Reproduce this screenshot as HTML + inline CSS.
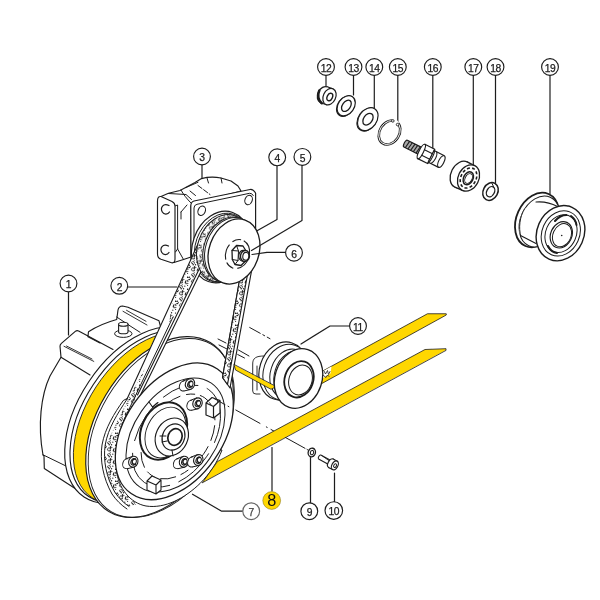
<!DOCTYPE html>
<html><head><meta charset="utf-8"><title>diagram</title>
<style>html,body{margin:0;padding:0;background:#fff;}svg{display:block;font-family:"Liberation Sans",sans-serif;}</style>
</head><body>
<svg width="600" height="600" viewBox="0 0 600 600">
<rect width="600" height="600" fill="#fff"/>
<g filter="url(#soft)">
<defs>
<filter id="soft" x="0" y="0" width="600" height="600" filterUnits="userSpaceOnUse"><feGaussianBlur stdDeviation="0.35"/></filter>
<pattern id="dots" width="12" height="12" patternUnits="userSpaceOnUse">
<rect width="12" height="12" fill="#fff"/><circle cx="5.4" cy="6.7" r="0.78" fill="#222"/><circle cx="5.6" cy="6.1" r="0.68" fill="#222"/><circle cx="2.2" cy="6.1" r="0.69" fill="#222"/><circle cx="9.5" cy="1.1" r="0.59" fill="#222"/><circle cx="1.1" cy="9.7" r="0.71" fill="#222"/><circle cx="0.5" cy="11.8" r="0.79" fill="#222"/><circle cx="7.8" cy="7.4" r="0.55" fill="#222"/><circle cx="0.2" cy="6.3" r="0.52" fill="#222"/><circle cx="2.3" cy="2.9" r="0.51" fill="#222"/><circle cx="5.6" cy="5.3" r="0.75" fill="#222"/><circle cx="6.2" cy="7.7" r="0.65" fill="#222"/><circle cx="7.9" cy="5.5" r="0.58" fill="#222"/><circle cx="12.0" cy="11.9" r="0.75" fill="#222"/><circle cx="8.5" cy="3.8" r="0.57" fill="#222"/><circle cx="3.5" cy="0.8" r="0.73" fill="#222"/><circle cx="4.8" cy="10.2" r="0.62" fill="#222"/><circle cx="11.5" cy="10.2" r="0.50" fill="#222"/><circle cx="2.5" cy="10.9" r="0.64" fill="#222"/><circle cx="11.8" cy="4.8" r="0.52" fill="#222"/><circle cx="7.6" cy="9.3" r="0.58" fill="#222"/><circle cx="1.0" cy="4.0" r="0.79" fill="#222"/><circle cx="9.1" cy="1.4" r="0.57" fill="#222"/><circle cx="1.2" cy="0.7" r="0.74" fill="#222"/><circle cx="2.1" cy="6.7" r="0.63" fill="#222"/><circle cx="2.3" cy="8.8" r="0.54" fill="#222"/><circle cx="7.7" cy="1.4" r="0.63" fill="#222"/><circle cx="2.6" cy="3.2" r="0.79" fill="#222"/><circle cx="9.6" cy="3.6" r="0.77" fill="#222"/><circle cx="2.5" cy="4.7" r="0.76" fill="#222"/><circle cx="7.7" cy="1.2" r="0.80" fill="#222"/><circle cx="2.6" cy="3.1" r="0.73" fill="#222"/><circle cx="3.9" cy="3.6" r="0.52" fill="#222"/><circle cx="1.1" cy="7.0" r="0.57" fill="#222"/><circle cx="7.2" cy="4.5" r="0.64" fill="#222"/><circle cx="11.5" cy="5.8" r="0.67" fill="#222"/><circle cx="10.4" cy="2.2" r="0.55" fill="#222"/>
</pattern>
<clipPath id="cy"><path d="M40 300 L172 300 L150 348 L112 420 L100 530 L40 530 Z"/></clipPath>
<clipPath id="ca"><path d="M0 0 L214 0 L214 240 L136 400 L136 600 L0 600 Z"/></clipPath>
<clipPath id="cd"><path d="M60 439 L150 439 L128 470 L140 530 L60 530 Z"/></clipPath>
</defs>
<path d="M44 456 L43 455 C37.5 425 41 395 50 376 L61 357.3 L60 346.3 Q60 344.6 61.4 343.4 L75.3 331.4 Q76.8 330.2 78.6 331 L88 336 L88.5 331.7 C95 327.5 104 323 116.7 319.5 L118 310 Q118.8 306.2 122.5 306 L128 307.2 L159 320.8 L162 332 C120 350 85 400 78 470 L82 493 L44.3 468.5 Z" fill="#fff" stroke="#1c1c1c" stroke-width="1.15" stroke-linejoin="round" stroke-linecap="round" />
<path d="M43 454.8 L68 467" fill="none" stroke="#1c1c1c" stroke-width="1" stroke-linejoin="round" stroke-linecap="round" />
<path d="M88 336 L113 349.5" fill="none" stroke="#1c1c1c" stroke-width="1.15" stroke-linejoin="round" stroke-linecap="round" />
<path d="M61 357.3 L90 375" fill="none" stroke="#1c1c1c" stroke-width="1.15" stroke-linejoin="round" stroke-linecap="round" />
<path d="M64 346.3 L93.8 361.4 M66.5 346 L92 359" fill="none" stroke="#1c1c1c" stroke-width="0.9" stroke-linejoin="round" stroke-linecap="round" />
<path d="M116.7 317 L128.7 325 L140 332.3" fill="none" stroke="#1c1c1c" stroke-width="1" stroke-linejoin="round" stroke-linecap="round" />
<path d="M123 311.3 L147 325 M126.5 310.3 L146 321.3" fill="none" stroke="#1c1c1c" stroke-width="0.9" stroke-linejoin="round" stroke-linecap="round" />
<path d="M88 336.7 L100 343" fill="none" stroke="#1c1c1c" stroke-width="1.15" stroke-linejoin="round" stroke-linecap="round" />
<ellipse cx="123.3" cy="333.7" rx="8.7" ry="3.7" transform="rotate(0 123.3 333.7)" fill="none" stroke="#1c1c1c" stroke-width="1" />
<path d="M118.6 324.3 L118.6 331.7 C118.6 334.5 128 334.5 128 331.7 L128 324.3 Z" fill="#fff" stroke="#1c1c1c" stroke-width="1.1" stroke-linejoin="round" stroke-linecap="round" />
<ellipse cx="123.3" cy="324.3" rx="4.7" ry="2" transform="rotate(0 123.3 324.3)" fill="#fff" stroke="#1c1c1c" stroke-width="1.1" />
<path d="M161 196.5 L168.5 193.3 L180 190.5 L195 182.5 L201.5 178.6 C208 176.8 215 176.8 221 178 L231 181 L238 186 L241 191 L200 202 L191 206 L191 257 L183.5 259.5 L174 262.5 L165 258 Z" fill="#fff" stroke="#1c1c1c" stroke-width="1.15" stroke-linejoin="round" stroke-linecap="round" />
<path d="M186 187.5 L198 182.3 M190 191 L195.5 195.5 M181 190 C183 194 187 199 191 203" fill="none" stroke="#1c1c1c" stroke-width="1" stroke-linejoin="round" stroke-linecap="round" />
<path d="M198 185.5 L210 194.5" fill="none" stroke="#1c1c1c" stroke-width="1" stroke-linejoin="round" stroke-linecap="round" stroke-dasharray="5 2"/>
<path d="M207 178 L208.5 183 M221 178 L222 183" fill="none" stroke="#1c1c1c" stroke-width="1" stroke-linejoin="round" stroke-linecap="round" />
<path d="M168.5 193.5 L186 194.5 L191.5 199.5" fill="none" stroke="#1c1c1c" stroke-width="1" stroke-linejoin="round" stroke-linecap="round" />
<path d="M175 206 L177.6 205 L177.6 249 L183.5 259.5 M177.6 249 L175.5 252" fill="none" stroke="#1c1c1c" stroke-width="1" stroke-linejoin="round" stroke-linecap="round" />
<path d="M181 212 L187 205 M181 212 L181 219" fill="none" stroke="#1c1c1c" stroke-width="1" stroke-linejoin="round" stroke-linecap="round" />
<path d="M157.5 201 Q157.5 196 161 196.5 L172 201.5 Q175 203 175 206 L175 259 Q175 263.5 171.5 262.7 L161 259.3 Q157.5 258 157.5 254 Z" fill="#fff" stroke="#1c1c1c" stroke-width="1.15" stroke-linejoin="round" stroke-linecap="round" />
<path d="M169 205.5 C163 202.5 160 208 162.3 212 C164 215 168 214.5 169.5 212" fill="none" stroke="#1c1c1c" stroke-width="1.2" stroke-linejoin="round" stroke-linecap="round" />
<path d="M168.5 246 C162.5 243 159.5 248.5 161.8 252.5 C163.5 255.5 167.5 255 169 252.5" fill="none" stroke="#1c1c1c" stroke-width="1.2" stroke-linejoin="round" stroke-linecap="round" />
<path d="M190.8 206 Q190.8 202 194 201 L250 189.5 Q253 189 255.6 193 L255.6 232 L191 262 Z" fill="#fff" stroke="#1c1c1c" stroke-width="1.15" stroke-linejoin="round" stroke-linecap="round" />
<path d="M194 259 L194 208 Q194 205 197 204.3 L249.5 193.3 Q252 193 253.3 195.5" fill="none" stroke="#1c1c1c" stroke-width="1" stroke-linejoin="round" stroke-linecap="round" />
<ellipse cx="201.7" cy="210.8" rx="3.6" ry="4.8" transform="rotate(22 201.7 210.8)" fill="none" stroke="#1c1c1c" stroke-width="1.1" />
<ellipse cx="248.6" cy="200" rx="3.6" ry="4.8" transform="rotate(22 248.6 200)" fill="none" stroke="#1c1c1c" stroke-width="1.1" />
<path d="M249.7 327.5 L270 338.7" fill="none" stroke="#1c1c1c" stroke-width="1" stroke-linejoin="round" stroke-linecap="round" stroke-dasharray="12 3 2 3"/>
<ellipse cx="220.5" cy="247" rx="27.9" ry="36.6" transform="rotate(19.5 220.5 247)" fill="#fff" stroke="#1c1c1c" stroke-width="1.15" />
<ellipse cx="222" cy="247.6" rx="26.6" ry="35.3" transform="rotate(19.5 222 247.6)" fill="#fff" stroke="#1c1c1c" stroke-width="0.9" />
<g clip-path="url(#ca)">
<ellipse cx="138.7" cy="415" rx="60" ry="98.5" transform="rotate(33.7 138.7 415)" fill="#fff" stroke="#1c1c1c" stroke-width="1.15" />
<ellipse cx="141.7" cy="416.5" rx="58" ry="96" transform="rotate(33.5 141.7 416.5)" fill="#fff" stroke="#1c1c1c" stroke-width="1.15" />
</g>
<g clip-path="url(#cy)">
<ellipse cx="143.8" cy="418" rx="57" ry="95" transform="rotate(33 143.8 418)" fill="#FFD700" stroke="#1c1c1c" stroke-width="0.8" />
</g>
<ellipse cx="159.5" cy="427" rx="62.5" ry="98.5" transform="rotate(31 159.5 427)" fill="#fff" stroke="#1c1c1c" stroke-width="1.15" />
<ellipse cx="161.3" cy="428" rx="62" ry="97.5" transform="rotate(31 161.3 428)" fill="none" stroke="#1c1c1c" stroke-width="0.9" />
<path d="M199.8 240 L216.4 240 L138 400 L120 445 L105.9 445 Z" fill="#fff" stroke="none" stroke-width="1.15" stroke-linejoin="round" stroke-linecap="round" />
<path d="M200.1 240 L212.7 240 L183.3 300 L170.8 322 L169.2 322 L172.8 300 Z" fill="url(#dots)" stroke="none" stroke-width="1.15" stroke-linejoin="round" stroke-linecap="round" />
<path d="M144.7 369 L138.6 390 L126.5 420 L116 445 L105.9 445 L117.9 420 L133.1 390 Z" fill="url(#dots)" stroke="none" stroke-width="1.15" stroke-linejoin="round" stroke-linecap="round" />
<path d="M199.8 240 L126.8 399.5 M216.4 240 L140 396 M213.4 240 L137.5 395" fill="none" stroke="#1c1c1c" stroke-width="1.1" stroke-linejoin="round" stroke-linecap="round" />
<path d="M173 317 L123.9 420" fill="none" stroke="#1c1c1c" stroke-width="1" stroke-linejoin="round" stroke-linecap="round" />
<path d="M126.5 399.5 C117.5 413 108 428 105.2 445 C103 460 106 477 115 492.5 C119 498 123 502.5 129 506.5 L150 500 L135 440 L140 400 Z" fill="none" stroke="none" stroke-width="1.15" stroke-linejoin="round" stroke-linecap="round" />
<path d="M105.3 444 C103 460 106 477 115 492.5 C119 498 123 502.5 129 506.5 L150 500 L135 440 L116 444 Z" fill="url(#dots)" stroke="none" stroke-width="1.15" stroke-linejoin="round" stroke-linecap="round" />
<path d="M126.8 399.5 C118 413 108 428 105.2 445 C103 460 106 477 115 492.5 C119 498 123 502.5 129 506.5" fill="none" stroke="#1c1c1c" stroke-width="1" stroke-linejoin="round" stroke-linecap="round" />
<path d="M127.5 398.3 L123.3 400.5 C114.5 413 105 428 102 445 C99.8 460 103 478 112 494 C116 500 121 505 127 509" fill="none" stroke="#1c1c1c" stroke-width="1" stroke-linejoin="round" stroke-linecap="round" />
<path d="M116.5 470 C118 488 130 503 146 506 C165 509 185 498 200 483.5 C210 473.5 217.5 462 222 450 L180 440 Z" fill="#fff" stroke="#1c1c1c" stroke-width="1" stroke-linejoin="round" stroke-linecap="round" />
<ellipse cx="174.3" cy="431.3" rx="49" ry="75.75" transform="rotate(34.7 174.3 431.3)" fill="#fff" stroke="#1c1c1c" stroke-width="1.3" />
<ellipse cx="175.5" cy="435" rx="41.5" ry="63" transform="rotate(34.7 175.5 435)" fill="none" stroke="#1c1c1c" stroke-width="1" />
<ellipse cx="176.5" cy="436" rx="36.5" ry="56.5" transform="rotate(34.7 176.5 436)" fill="none" stroke="#1c1c1c" stroke-width="0.9" stroke-dasharray="38 9 60 12 45 8"/>
<ellipse cx="178" cy="436.5" rx="31" ry="47" transform="rotate(34.7 178 436.5)" fill="none" stroke="#1c1c1c" stroke-width="0.9" stroke-dasharray="16 6 9 5"/>
<ellipse cx="163.5" cy="431" rx="22" ry="30" transform="rotate(25 163.5 431)" fill="#fff" stroke="#1c1c1c" stroke-width="2" />
<ellipse cx="165.5" cy="432.5" rx="19" ry="26.5" transform="rotate(25 165.5 432.5)" fill="none" stroke="#1c1c1c" stroke-width="0.9" />
<ellipse cx="171.8" cy="437" rx="16" ry="19.5" transform="rotate(25 171.8 437)" fill="#fff" stroke="#1c1c1c" stroke-width="1.15" />
<ellipse cx="173.5" cy="437" rx="11" ry="13.5" transform="rotate(25 173.5 437)" fill="none" stroke="#1c1c1c" stroke-width="1.15" />
<ellipse cx="175" cy="437" rx="7" ry="8.5" transform="rotate(20 175 437)" fill="none" stroke="#1c1c1c" stroke-width="1.7" />
<path d="M160 436 L166 436 M162 442 L167 441 M172 450 L173 456" fill="none" stroke="#1c1c1c" stroke-width="1" stroke-linejoin="round" stroke-linecap="round" />
<path d="M190.0 400.5 L197.0 398.0 L198.5 408.6 L191.0 410.3 Z" fill="#fff" stroke="none" stroke-width="1.15" stroke-linejoin="round" stroke-linecap="round" />
<ellipse cx="191.0" cy="405.3" rx="4" ry="5" transform="rotate(20 191.0 405.3)" fill="#fff" stroke="#1c1c1c" stroke-width="1" />
<path d="M191.7 400.6 L196.0 398.1 L199.5 408.3 L191.5 410.2 Z" fill="#fff" stroke="none" stroke-width="1.15" stroke-linejoin="round" stroke-linecap="round" />
<path d="M190.2 400.40000000000003 L196.7 397.90000000000003 M191.5 410.3 L198.5 408.7" fill="none" stroke="#1c1c1c" stroke-width="1" stroke-linejoin="round" stroke-linecap="round" />
<ellipse cx="197.5" cy="403.3" rx="4.6" ry="5.5" transform="rotate(20 197.5 403.3)" fill="#fff" stroke="#1c1c1c" stroke-width="1.1" />
<ellipse cx="197.8" cy="403.5" rx="2.6" ry="3.3" transform="rotate(20 197.8 403.5)" fill="none" stroke="#1c1c1c" stroke-width="1" />
<path d="M199.5 400.7 C195.3 400.0 195.3 406.6 199.5 405.90000000000003" fill="none" stroke="#1c1c1c" stroke-width="1.5" stroke-linejoin="round" stroke-linecap="round" />
<path d="M182.5 381.2 L189.5 378.7 L191 389.3 L183.5 391 Z" fill="#fff" stroke="none" stroke-width="1.15" stroke-linejoin="round" stroke-linecap="round" />
<ellipse cx="183.5" cy="386" rx="4" ry="5" transform="rotate(20 183.5 386)" fill="#fff" stroke="#1c1c1c" stroke-width="1" />
<path d="M184.2 381.3 L188.5 378.8 L192 389 L184 390.9 Z" fill="#fff" stroke="none" stroke-width="1.15" stroke-linejoin="round" stroke-linecap="round" />
<path d="M182.7 381.1 L189.2 378.6 M184 391 L191 389.4" fill="none" stroke="#1c1c1c" stroke-width="1" stroke-linejoin="round" stroke-linecap="round" />
<ellipse cx="190" cy="384" rx="4.6" ry="5.5" transform="rotate(20 190 384)" fill="#fff" stroke="#1c1c1c" stroke-width="1.1" />
<ellipse cx="190.3" cy="384.2" rx="2.6" ry="3.3" transform="rotate(20 190.3 384.2)" fill="none" stroke="#1c1c1c" stroke-width="1" />
<path d="M192 381.4 C187.8 380.7 187.8 387.3 192 386.6" fill="none" stroke="#1c1c1c" stroke-width="1.5" stroke-linejoin="round" stroke-linecap="round" />
<path d="M125.80000000000001 458.9 L132.8 456.4 L134.3 467.0 L126.80000000000001 468.7 Z" fill="#fff" stroke="none" stroke-width="1.15" stroke-linejoin="round" stroke-linecap="round" />
<ellipse cx="126.80000000000001" cy="463.7" rx="4" ry="5" transform="rotate(20 126.80000000000001 463.7)" fill="#fff" stroke="#1c1c1c" stroke-width="1" />
<path d="M127.50000000000001 459.0 L131.8 456.5 L135.3 466.7 L127.30000000000001 468.59999999999997 Z" fill="#fff" stroke="none" stroke-width="1.15" stroke-linejoin="round" stroke-linecap="round" />
<path d="M126.00000000000001 458.8 L132.5 456.3 M127.30000000000001 468.7 L134.3 467.09999999999997" fill="none" stroke="#1c1c1c" stroke-width="1" stroke-linejoin="round" stroke-linecap="round" />
<ellipse cx="133.3" cy="461.7" rx="4.6" ry="5.5" transform="rotate(20 133.3 461.7)" fill="#fff" stroke="#1c1c1c" stroke-width="1.1" />
<ellipse cx="133.60000000000002" cy="461.9" rx="2.6" ry="3.3" transform="rotate(20 133.60000000000002 461.9)" fill="none" stroke="#1c1c1c" stroke-width="1" />
<path d="M135.3 459.09999999999997 C131.10000000000002 458.4 131.10000000000002 465.0 135.3 464.3" fill="none" stroke="#1c1c1c" stroke-width="1.5" stroke-linejoin="round" stroke-linecap="round" />
<path d="M176.5 458.9 L183.5 456.4 L185 467.0 L177.5 468.7 Z" fill="#fff" stroke="none" stroke-width="1.15" stroke-linejoin="round" stroke-linecap="round" />
<ellipse cx="177.5" cy="463.7" rx="4" ry="5" transform="rotate(20 177.5 463.7)" fill="#fff" stroke="#1c1c1c" stroke-width="1" />
<path d="M178.2 459.0 L182.5 456.5 L186 466.7 L178 468.59999999999997 Z" fill="#fff" stroke="none" stroke-width="1.15" stroke-linejoin="round" stroke-linecap="round" />
<path d="M176.7 458.8 L183.2 456.3 M178 468.7 L185 467.09999999999997" fill="none" stroke="#1c1c1c" stroke-width="1" stroke-linejoin="round" stroke-linecap="round" />
<ellipse cx="184" cy="461.7" rx="4.6" ry="5.5" transform="rotate(20 184 461.7)" fill="#fff" stroke="#1c1c1c" stroke-width="1.1" />
<ellipse cx="184.3" cy="461.9" rx="2.6" ry="3.3" transform="rotate(20 184.3 461.9)" fill="none" stroke="#1c1c1c" stroke-width="1" />
<path d="M186 459.09999999999997 C181.8 458.4 181.8 465.0 186 464.3" fill="none" stroke="#1c1c1c" stroke-width="1.5" stroke-linejoin="round" stroke-linecap="round" />
<path d="M190.8 457.2 L197.8 454.7 L199.3 465.3 L191.8 467 Z" fill="#fff" stroke="none" stroke-width="1.15" stroke-linejoin="round" stroke-linecap="round" />
<ellipse cx="191.8" cy="462" rx="4" ry="5" transform="rotate(20 191.8 462)" fill="#fff" stroke="#1c1c1c" stroke-width="1" />
<path d="M192.5 457.3 L196.8 454.8 L200.3 465 L192.3 466.9 Z" fill="#fff" stroke="none" stroke-width="1.15" stroke-linejoin="round" stroke-linecap="round" />
<path d="M191.0 457.1 L197.5 454.6 M192.3 467 L199.3 465.4" fill="none" stroke="#1c1c1c" stroke-width="1" stroke-linejoin="round" stroke-linecap="round" />
<ellipse cx="198.3" cy="460" rx="4.6" ry="5.5" transform="rotate(20 198.3 460)" fill="#fff" stroke="#1c1c1c" stroke-width="1.1" />
<ellipse cx="198.60000000000002" cy="460.2" rx="2.6" ry="3.3" transform="rotate(20 198.60000000000002 460.2)" fill="none" stroke="#1c1c1c" stroke-width="1" />
<path d="M200.3 457.4 C196.10000000000002 456.7 196.10000000000002 463.3 200.3 462.6" fill="none" stroke="#1c1c1c" stroke-width="1.5" stroke-linejoin="round" stroke-linecap="round" />
<path d="M206 403 L212 397.5 L220 400.5 L220 413 L213.5 418 L206 415 Z M206 403 L213.5 406.5 L220 400.5 M213.5 406.5 L213.5 418" fill="#fff" stroke="#1c1c1c" stroke-width="1.2" stroke-linejoin="round" stroke-linecap="round" />
<path d="M147 481 L152 476 L161 480 L161 490 L156 494 L147 490 Z M147 481 L156 485 L161 480 M156 485 L156 494" fill="#fff" stroke="#1c1c1c" stroke-width="1.1" stroke-linejoin="round" stroke-linecap="round" />
<path d="M149 402 L152.5 407 L158 402.5" fill="none" stroke="#1c1c1c" stroke-width="1.1" stroke-linejoin="round" stroke-linecap="round" />
<path d="M243.4 258 L253.9 258 L230 388 L222.5 377.5 Z" fill="#fff" stroke="#1c1c1c" stroke-width="1.15" stroke-linejoin="round" stroke-linecap="round" />
<path d="M243.4 258 L250.5 258 L227.5 384.5 L222.5 377.5 Z" fill="url(#dots)" stroke="#1c1c1c" stroke-width="1.15" stroke-linejoin="round" stroke-linecap="round" />
<ellipse cx="223.2" cy="248.2" rx="25.6" ry="34.4" transform="rotate(19.5 223.2 248.2)" fill="url(#dots)" stroke="#1c1c1c" stroke-width="1" />
<ellipse cx="228.5" cy="249.3" rx="24.6" ry="33" transform="rotate(19.5 228.5 249.3)" fill="#fff" stroke="#1c1c1c" stroke-width="1" />
<ellipse cx="230.5" cy="250" rx="24.9" ry="33.3" transform="rotate(19.5 230.5 250)" fill="#fff" stroke="#1c1c1c" stroke-width="1" />
<ellipse cx="234" cy="251.5" rx="24.9" ry="33.3" transform="rotate(19.5 234 251.5)" fill="#fff" stroke="#1c1c1c" stroke-width="1.3" />
<ellipse cx="237.5" cy="254" rx="11.8" ry="14.8" transform="rotate(19.5 237.5 254)" fill="none" stroke="#1c1c1c" stroke-width="1.1" stroke-dasharray="16 4 9 3"/>
<path d="M232 250.5 L236.5 245.5 L243 246 L246 251 L245.5 261 L241 265.5 L235 264.5 L232.3 259.5 Z" fill="#fff" stroke="#1c1c1c" stroke-width="1.3" stroke-linejoin="round" stroke-linecap="round" />
<path d="M236.5 245.5 L238.5 251 L238 260.5 L235 264.5 M238.5 251 L232 250.5 M238 260.5 L232.3 259.5" fill="none" stroke="#1c1c1c" stroke-width="1" stroke-linejoin="round" stroke-linecap="round" />
<ellipse cx="243" cy="255.7" rx="4.3" ry="5.4" transform="rotate(8 243 255.7)" fill="#fff" stroke="#1c1c1c" stroke-width="1.2" />
<ellipse cx="245" cy="256" rx="4.5" ry="5.5" transform="rotate(8 245 256)" fill="#fff" stroke="#1c1c1c" stroke-width="1.4" />
<ellipse cx="245.8" cy="256.3" rx="3" ry="3.9" transform="rotate(8 245.8 256.3)" fill="none" stroke="#1c1c1c" stroke-width="1.1" />
<path d="M238.5 350 L249 356 M237.7 354.5 L244.5 358 M218 339 L226 343 M219 345 L227 349" fill="none" stroke="#1c1c1c" stroke-width="1" stroke-linejoin="round" stroke-linecap="round" />
<path d="M264 356 C256 356 252.7 358 252.7 364 L252.7 391 Q252.7 394 256 394 L260 394 M257 366 L257 390" fill="none" stroke="#1c1c1c" stroke-width="0.9" stroke-linejoin="round" stroke-linecap="round" />
<ellipse cx="283" cy="371" rx="23.5" ry="29.5" transform="rotate(18 283 371)" fill="#fff" stroke="#1c1c1c" stroke-width="1.15" />
<ellipse cx="286" cy="372.3" rx="22.5" ry="28.5" transform="rotate(18 286 372.3)" fill="#fff" stroke="#1c1c1c" stroke-width="1" />
<ellipse cx="289" cy="373.5" rx="18.5" ry="25" transform="rotate(18 289 373.5)" fill="#fff" stroke="#1c1c1c" stroke-width="1" />
<ellipse cx="293" cy="375.3" rx="18.5" ry="25" transform="rotate(18 293 375.3)" fill="#fff" stroke="#1c1c1c" stroke-width="1" />
<path d="M234 364.7 L235.5 370 L271 389.3 L276 386.8 Z" fill="#FFD700" stroke="#1c1c1c" stroke-width="0.8" stroke-linejoin="round" stroke-linecap="round" />
<path d="M305 380.7 L427.5 313.75 L446.25 313.75 L446.25 315 L305 392.8 Z" fill="#FFD700" stroke="#1c1c1c" stroke-width="0.8" stroke-linejoin="round" stroke-linecap="round" />
<path d="M320 372.7 L331.5 366.4 L330.5 373.5 L321 379.5 Z" fill="#fff" stroke="none" stroke-width="1.15" stroke-linejoin="round" stroke-linecap="round" />
<path d="M324 371 l1.5 3 l2 -3.5 l1 4 l1.5 -3 M323.5 375.5 l2.5 2 l1.5 -2.5 l1.5 1.5" fill="none" stroke="#1c1c1c" stroke-width="0.8" stroke-linejoin="round" stroke-linecap="round" />
<ellipse cx="298.5" cy="378.5" rx="23.5" ry="30.3" transform="rotate(18 298.5 378.5)" fill="#fff" stroke="#1c1c1c" stroke-width="1.3" />
<ellipse cx="299" cy="379.3" rx="14.3" ry="18.5" transform="rotate(18 299 379.3)" fill="none" stroke="#1c1c1c" stroke-width="1.8" />
<ellipse cx="300.5" cy="380" rx="11.5" ry="15.2" transform="rotate(18 300.5 380)" fill="none" stroke="#1c1c1c" stroke-width="1" />
<path d="M214 398.5 L225 404.6 M228 406.2 L228.9 406.7 M235.8 410 L260 423.4 M266.3 426.9 L267.2 427.4 M271 429.5 L305 448.3 M307 449.4 L307.6 449.8" fill="none" stroke="#1c1c1c" stroke-width="1" stroke-linejoin="round" stroke-linecap="round" />
<path d="M202.5 482.5 L217.5 461.5 L425 349.5 L446 348.7 L446 350 Z" fill="#FFD700" stroke="#1c1c1c" stroke-width="0.8" stroke-linejoin="round" stroke-linecap="round" />
<ellipse cx="311.8" cy="452.5" rx="3.6" ry="4.4" transform="rotate(15 311.8 452.5)" fill="#fff" stroke="#1c1c1c" stroke-width="1.3" />
<ellipse cx="312" cy="452.6" rx="1.6" ry="2.2" transform="rotate(15 312 452.6)" fill="none" stroke="#1c1c1c" stroke-width="1" />
<g transform="translate(318.8 456.6) rotate(28.6)">
<path d="M1 -2.3 L13 -2.3 L13 2.3 L1 2.3 C-0.4 2.3 -0.4 -2.3 1 -2.3 Z" fill="#fff" stroke="#1c1c1c" stroke-width="1.1" stroke-linejoin="round" stroke-linecap="round" />
<path d="M3 -2.3 L12 -1.2" fill="none" stroke="#1c1c1c" stroke-width="0.8" stroke-linejoin="round" stroke-linecap="round" />
<ellipse cx="13.8" cy="0" rx="2.8" ry="4.8" transform="rotate(0 13.8 0)" fill="#fff" stroke="#1c1c1c" stroke-width="1.1" />
<path d="M13.8 -4.8 L18.3 -4.8 L18.3 4.8 L13.8 4.8 Z" fill="#fff" stroke="none" stroke-width="1.15" stroke-linejoin="round" stroke-linecap="round" />
<path d="M13.8 -4.8 L18.3 -4.8 M13.8 4.8 L18.3 4.8" fill="none" stroke="#1c1c1c" stroke-width="1.1" stroke-linejoin="round" stroke-linecap="round" />
<ellipse cx="18.3" cy="0" rx="3" ry="4.8" transform="rotate(0 18.3 0)" fill="#fff" stroke="#1c1c1c" stroke-width="1.2" />
<ellipse cx="18.6" cy="0.1" rx="1.3" ry="2" transform="rotate(0 18.6 0.1)" fill="none" stroke="#1c1c1c" stroke-width="1" />
</g>
<path d="M68.5 292 L68.5 335" fill="none" stroke="#1c1c1c" stroke-width="1.2" stroke-linejoin="round" stroke-linecap="round" />
<circle cx="68.5" cy="283.5" r="8.4" fill="#fff" stroke="#1c1c1c" stroke-width="1.15"/>
<text x="68.5" y="288.311" font-size="10.3" text-anchor="middle" fill="#1c1c1c" stroke="#1c1c1c" stroke-width="0.25" font-weight="normal" letter-spacing="-0.4">1</text>
<path d="M127.5 287 L177 287" fill="none" stroke="#1c1c1c" stroke-width="1.2" stroke-linejoin="round" stroke-linecap="round" />
<circle cx="119.3" cy="285.8" r="8.4" fill="#fff" stroke="#1c1c1c" stroke-width="1.15"/>
<text x="119.3" y="290.611" font-size="10.3" text-anchor="middle" fill="#1c1c1c" stroke="#1c1c1c" stroke-width="0.25" font-weight="normal" letter-spacing="-0.4">2</text>
<path d="M202 164.5 L202 178" fill="none" stroke="#1c1c1c" stroke-width="1.2" stroke-linejoin="round" stroke-linecap="round" />
<circle cx="202" cy="156.5" r="8.4" fill="#fff" stroke="#1c1c1c" stroke-width="1.15"/>
<text x="202" y="161.311" font-size="10.3" text-anchor="middle" fill="#1c1c1c" stroke="#1c1c1c" stroke-width="0.25" font-weight="normal" letter-spacing="-0.4">3</text>
<path d="M277 164.5 L277 219.5 L257.5 230.5" fill="none" stroke="#1c1c1c" stroke-width="1.2" stroke-linejoin="round" stroke-linecap="round" />
<circle cx="277.2" cy="157.3" r="8.4" fill="#fff" stroke="#1c1c1c" stroke-width="1.15"/>
<text x="277.2" y="162.11100000000002" font-size="10.3" text-anchor="middle" fill="#1c1c1c" stroke="#1c1c1c" stroke-width="0.25" font-weight="normal" letter-spacing="-0.4">4</text>
<path d="M302 164.5 L302 220.5 L251.5 250.5" fill="none" stroke="#1c1c1c" stroke-width="1.2" stroke-linejoin="round" stroke-linecap="round" />
<circle cx="302.4" cy="156.9" r="8.4" fill="#fff" stroke="#1c1c1c" stroke-width="1.15"/>
<text x="302.4" y="161.711" font-size="10.3" text-anchor="middle" fill="#1c1c1c" stroke="#1c1c1c" stroke-width="0.25" font-weight="normal" letter-spacing="-0.4">5</text>
<path d="M286 252.3 L267 252.3 L252 254.5" fill="none" stroke="#1c1c1c" stroke-width="1.2" stroke-linejoin="round" stroke-linecap="round" />
<circle cx="294" cy="252.7" r="8.4" fill="#fff" stroke="#1c1c1c" stroke-width="1.15"/>
<text x="294" y="257.51099999999997" font-size="10.3" text-anchor="middle" fill="#1c1c1c" stroke="#1c1c1c" stroke-width="0.25" font-weight="normal" letter-spacing="-0.4">6</text>
<path d="M243.2 511.2 L221.7 511.2 L192.5 494.2" fill="none" stroke="#1c1c1c" stroke-width="1.2" stroke-linejoin="round" stroke-linecap="round" />
<circle cx="251.2" cy="511.2" r="8.4" fill="#fff" stroke="#666" stroke-width="1.15"/>
<text x="251.2" y="516.011" font-size="10.3" text-anchor="middle" fill="#444" stroke="#444" stroke-width="0.25" font-weight="normal" letter-spacing="-0.4">7</text>
<path d="M272 447.5 L272 491" fill="none" stroke="#1c1c1c" stroke-width="1.2" stroke-linejoin="round" stroke-linecap="round" />
<circle cx="271.7" cy="500.5" r="8.9" fill="#FFD700" stroke="#7a6600" stroke-width="0.5"/>
<text transform="translate(271.7 506.4) scale(0.96 1)" font-size="17" text-anchor="middle" fill="#111">8</text>
<path d="M310.5 457.5 L310.5 503" fill="none" stroke="#1c1c1c" stroke-width="1.2" stroke-linejoin="round" stroke-linecap="round" />
<circle cx="309.3" cy="511.2" r="8.4" fill="#fff" stroke="#1c1c1c" stroke-width="1.15"/>
<text x="309.3" y="516.011" font-size="10.3" text-anchor="middle" fill="#1c1c1c" stroke="#1c1c1c" stroke-width="0.25" font-weight="normal" letter-spacing="-0.4">9</text>
<path d="M334.5 473 L334.5 502" fill="none" stroke="#1c1c1c" stroke-width="1.2" stroke-linejoin="round" stroke-linecap="round" />
<circle cx="333.8" cy="510.5" r="8.8" fill="#fff" stroke="#1c1c1c" stroke-width="1.15"/>
<text x="333.8" y="515.311" font-size="10.3" text-anchor="middle" fill="#1c1c1c" stroke="#1c1c1c" stroke-width="0.25" font-weight="normal" letter-spacing="-0.4">10</text>
<path d="M350 326 L330 326 L301 344" fill="none" stroke="#1c1c1c" stroke-width="1.2" stroke-linejoin="round" stroke-linecap="round" />
<circle cx="358" cy="326" r="8.4" fill="#fff" stroke="#1c1c1c" stroke-width="1.15"/>
<text x="358" y="330.811" font-size="10.3" text-anchor="middle" fill="#1c1c1c" stroke="#1c1c1c" stroke-width="0.25" font-weight="normal" letter-spacing="-0.4">11</text>
<path d="M326 75.4 L326 88" fill="none" stroke="#1c1c1c" stroke-width="1.2" stroke-linejoin="round" stroke-linecap="round" />
<circle cx="326" cy="67" r="8.4" fill="#fff" stroke="#1c1c1c" stroke-width="1.15"/>
<text x="326" y="71.811" font-size="10.3" text-anchor="middle" fill="#1c1c1c" stroke="#1c1c1c" stroke-width="0.25" font-weight="normal" letter-spacing="-0.4">12</text>
<path d="M353.5 75.4 L353.5 95" fill="none" stroke="#1c1c1c" stroke-width="1.2" stroke-linejoin="round" stroke-linecap="round" />
<circle cx="353.5" cy="67" r="8.4" fill="#fff" stroke="#1c1c1c" stroke-width="1.15"/>
<text x="353.5" y="71.811" font-size="10.3" text-anchor="middle" fill="#1c1c1c" stroke="#1c1c1c" stroke-width="0.25" font-weight="normal" letter-spacing="-0.4">13</text>
<path d="M374.3 75.4 L374.3 109" fill="none" stroke="#1c1c1c" stroke-width="1.2" stroke-linejoin="round" stroke-linecap="round" />
<circle cx="374.3" cy="67" r="8.4" fill="#fff" stroke="#1c1c1c" stroke-width="1.15"/>
<text x="374.3" y="71.811" font-size="10.3" text-anchor="middle" fill="#1c1c1c" stroke="#1c1c1c" stroke-width="0.25" font-weight="normal" letter-spacing="-0.4">14</text>
<path d="M397.8 75.4 L397.8 122.5" fill="none" stroke="#1c1c1c" stroke-width="1.2" stroke-linejoin="round" stroke-linecap="round" />
<circle cx="397.8" cy="67" r="8.4" fill="#fff" stroke="#1c1c1c" stroke-width="1.15"/>
<text x="397.8" y="71.811" font-size="10.3" text-anchor="middle" fill="#1c1c1c" stroke="#1c1c1c" stroke-width="0.25" font-weight="normal" letter-spacing="-0.4">15</text>
<path d="M432.8 75.4 L432.8 150" fill="none" stroke="#1c1c1c" stroke-width="1.2" stroke-linejoin="round" stroke-linecap="round" />
<circle cx="432.8" cy="67" r="8.4" fill="#fff" stroke="#1c1c1c" stroke-width="1.15"/>
<text x="432.8" y="71.811" font-size="10.3" text-anchor="middle" fill="#1c1c1c" stroke="#1c1c1c" stroke-width="0.25" font-weight="normal" letter-spacing="-0.4">16</text>
<path d="M473.3 75.4 L473.3 165" fill="none" stroke="#1c1c1c" stroke-width="1.2" stroke-linejoin="round" stroke-linecap="round" />
<circle cx="473.3" cy="67" r="8.4" fill="#fff" stroke="#1c1c1c" stroke-width="1.15"/>
<text x="473.3" y="71.811" font-size="10.3" text-anchor="middle" fill="#1c1c1c" stroke="#1c1c1c" stroke-width="0.25" font-weight="normal" letter-spacing="-0.4">17</text>
<path d="M495.5 75.4 L495.5 185" fill="none" stroke="#1c1c1c" stroke-width="1.2" stroke-linejoin="round" stroke-linecap="round" />
<circle cx="495.5" cy="67" r="8.4" fill="#fff" stroke="#1c1c1c" stroke-width="1.15"/>
<text x="495.5" y="71.811" font-size="10.3" text-anchor="middle" fill="#1c1c1c" stroke="#1c1c1c" stroke-width="0.25" font-weight="normal" letter-spacing="-0.4">18</text>
<path d="M550 75.4 L550 194" fill="none" stroke="#1c1c1c" stroke-width="1.2" stroke-linejoin="round" stroke-linecap="round" />
<circle cx="550" cy="67" r="8.4" fill="#fff" stroke="#1c1c1c" stroke-width="1.15"/>
<text x="550" y="71.811" font-size="10.3" text-anchor="middle" fill="#1c1c1c" stroke="#1c1c1c" stroke-width="0.25" font-weight="normal" letter-spacing="-0.4">19</text>
<ellipse cx="324" cy="94.8" rx="6.2" ry="8.6" transform="rotate(25 324 94.8)" fill="#fff" stroke="#1c1c1c" stroke-width="1.3" />
<path d="M327.2 86.8 L332.7 88.7 L326.3 104.7 L320.8 102.8 Z" fill="#fff" stroke="none" stroke-width="1.15" stroke-linejoin="round" stroke-linecap="round" />
<path d="M327.2 86.8 L332.7 88.7 M320.8 102.8 L326.3 104.7" fill="none" stroke="#1c1c1c" stroke-width="1.2" stroke-linejoin="round" stroke-linecap="round" />
<ellipse cx="329.5" cy="96.7" rx="6.2" ry="8.6" transform="rotate(25 329.5 96.7)" fill="#fff" stroke="#1c1c1c" stroke-width="1.2" />
<ellipse cx="329.8" cy="97" rx="2.6" ry="3.9" transform="rotate(25 329.8 97)" fill="none" stroke="#1c1c1c" stroke-width="1.4" />
<path d="M319.3 90.5 C317.2 95 318 100.5 321.8 103.2" fill="none" stroke="#1c1c1c" stroke-width="2.6" stroke-linejoin="round" stroke-linecap="round" />
<ellipse cx="345.6" cy="106.2" rx="8" ry="11" transform="rotate(35 345.6 106.2)" fill="#fff" stroke="#1c1c1c" stroke-width="1.15" />
<ellipse cx="346.2" cy="105.8" rx="8" ry="11" transform="rotate(35 346.2 105.8)" fill="#fff" stroke="#1c1c1c" stroke-width="1.15" />
<ellipse cx="346.4" cy="105.8" rx="4" ry="6.3" transform="rotate(35 346.4 105.8)" fill="none" stroke="#1c1c1c" stroke-width="1.3" />
<ellipse cx="367.2" cy="119.6" rx="9" ry="12.5" transform="rotate(35 367.2 119.6)" fill="#fff" stroke="#1c1c1c" stroke-width="1.15" />
<ellipse cx="367.8" cy="119.2" rx="9" ry="12.5" transform="rotate(35 367.8 119.2)" fill="#fff" stroke="#1c1c1c" stroke-width="1.15" />
<ellipse cx="368" cy="119.2" rx="4.3" ry="6.5" transform="rotate(35 368 119.2)" fill="none" stroke="#1c1c1c" stroke-width="1.3" />
<ellipse cx="389.5" cy="132.5" rx="9.8" ry="12.8" transform="rotate(33 389.5 132.5)" fill="#fff" stroke="#1c1c1c" stroke-width="2.6" />
<ellipse cx="389.5" cy="132.5" rx="9.8" ry="12.8" transform="rotate(33 389.5 132.5)" fill="none" stroke="#fff" stroke-width="0.9" />
<path d="M394 119.8 L397 123" fill="none" stroke="#fff" stroke-width="4" stroke-linejoin="round" stroke-linecap="round" />
<circle cx="392.8" cy="120.9" r="1.3" fill="#fff" stroke="#1c1c1c" stroke-width="0.9"/><circle cx="397.6" cy="124.6" r="1.3" fill="#fff" stroke="#1c1c1c" stroke-width="0.9"/>
<g transform="translate(404.3 143) rotate(26.5)">
<path d="M1.5 -3.8 L18 -3.8 L18 3.8 L1.5 3.8 C-0.5 3.8 -0.5 -3.8 1.5 -3.8 Z" fill="#aaa" stroke="#1c1c1c" stroke-width="1.2" stroke-linejoin="round" stroke-linecap="round" />
<path d="M4 -3.5 L3 3.5 M7 -3.5 L6 3.5 M10 -3.5 L9 3.5 M13 -3.5 L12 3.5 M16 -3.5 L15 3.5" fill="none" stroke="#1c1c1c" stroke-width="1.1" stroke-linejoin="round" stroke-linecap="round" />
<path d="M18 -3.8 L19 -8 L30 -8 L30 8 L19 8 Z" fill="#fff" stroke="#1c1c1c" stroke-width="1.15" stroke-linejoin="round" stroke-linecap="round" />
<ellipse cx="19" cy="0" rx="2.2" ry="8" transform="rotate(0 19 0)" fill="#fff" stroke="#1c1c1c" stroke-width="1.15" />
<path d="M21 -3 L30 -3 M21 3.2 L30 3.2" fill="none" stroke="#1c1c1c" stroke-width="1" stroke-linejoin="round" stroke-linecap="round" />
<path d="M30 -6.5 L41 -6.5 C45 -6.5 45 6.5 41 6.5 L30 6.5 Z" fill="#fff" stroke="#1c1c1c" stroke-width="1.15" stroke-linejoin="round" stroke-linecap="round" />
<path d="M41 -6.5 C38 -4.5 38 4.5 41 6.5" fill="none" stroke="#1c1c1c" stroke-width="1" stroke-linejoin="round" stroke-linecap="round" />
<path d="M33 -6.5 C35.5 -4 35.5 4 33 6.5" fill="none" stroke="#1c1c1c" stroke-width="1" stroke-linejoin="round" stroke-linecap="round" />
<path d="M30 -8 C32 -5 32 5 30 8" fill="none" stroke="#1c1c1c" stroke-width="1" stroke-linejoin="round" stroke-linecap="round" />
</g>
<ellipse cx="461" cy="174.5" rx="10" ry="14" transform="rotate(27 461 174.5)" fill="#fff" stroke="#1c1c1c" stroke-width="1.3" />
<path d="M467.1 161.9 L474.5 165.6 L462.5 190.4 L454.9 187.1 Z" fill="#fff" stroke="none" stroke-width="1.15" stroke-linejoin="round" stroke-linecap="round" />
<path d="M467.1 161.9 L474.5 165.6 M454.9 187.1 L462.5 190.4" fill="none" stroke="#1c1c1c" stroke-width="1.3" stroke-linejoin="round" stroke-linecap="round" />
<ellipse cx="468.5" cy="178" rx="10.3" ry="13.8" transform="rotate(27 468.5 178)" fill="#fff" stroke="#1c1c1c" stroke-width="1.3" />
<ellipse cx="468.5" cy="178" rx="7.6" ry="10.6" transform="rotate(27 468.5 178)" fill="none" stroke="#1c1c1c" stroke-width="1.6" stroke-dasharray="3 2.2"/>
<ellipse cx="468.3" cy="178.3" rx="4.7" ry="6.8" transform="rotate(27 468.3 178.3)" fill="none" stroke="#1c1c1c" stroke-width="1.5" />
<ellipse cx="468.6" cy="178.5" rx="3.4" ry="5.2" transform="rotate(27 468.6 178.5)" fill="none" stroke="#1c1c1c" stroke-width="0.9" />
<ellipse cx="490.5" cy="191.5" rx="7.3" ry="9.3" transform="rotate(28 490.5 191.5)" fill="#fff" stroke="#1c1c1c" stroke-width="1.5" />
<ellipse cx="490.6" cy="191.7" rx="3.8" ry="5.4" transform="rotate(28 490.6 191.7)" fill="none" stroke="#1c1c1c" stroke-width="1.3" />
<path d="M491.5 182.5 L493.5 186.5" fill="none" stroke="#1c1c1c" stroke-width="1" stroke-linejoin="round" stroke-linecap="round" />
<ellipse cx="537" cy="220" rx="20.5" ry="28.5" transform="rotate(24 537 220)" fill="#fff" stroke="#1c1c1c" stroke-width="1.8" />
<ellipse cx="539.5" cy="221.5" rx="19" ry="26.5" transform="rotate(24 539.5 221.5)" fill="#fff" stroke="#1c1c1c" stroke-width="1" />
<path d="M537 201.7 C545 201 552 203 558 207 L552 262 L535 243 L520 235.5 C518 228 520 215 524.5 209 Z" fill="#fff" stroke="none" stroke-width="1.15" stroke-linejoin="round" stroke-linecap="round" />
<path d="M536 202 C544 201.3 551 203 557.5 206.5 M520.5 235.5 L536 243.5" fill="none" stroke="#1c1c1c" stroke-width="1.15" stroke-linejoin="round" stroke-linecap="round" />
<path d="M524.5 209 C519.5 217 518.5 228 520.7 236" fill="none" stroke="#1c1c1c" stroke-width="1" stroke-linejoin="round" stroke-linecap="round" />
<ellipse cx="560.5" cy="233.2" rx="23.5" ry="28.3" transform="rotate(24 560.5 233.2)" fill="#fff" stroke="#1c1c1c" stroke-width="1.4" />
<ellipse cx="560.8" cy="233.4" rx="18.8" ry="23.3" transform="rotate(24 560.8 233.4)" fill="none" stroke="#1c1c1c" stroke-width="1" />
<ellipse cx="561" cy="233.6" rx="15.3" ry="19.5" transform="rotate(24 561 233.6)" fill="none" stroke="#1c1c1c" stroke-width="1" />
<path d="M548 246 C550 250 553 252.5 557 253 M571 216 C574 218 576 221 576.5 225 M566.5 215 C562 215 558 217.5 555 221" fill="none" stroke="#1c1c1c" stroke-width="2" stroke-linejoin="round" stroke-linecap="round" />
<ellipse cx="561.3" cy="234.8" rx="10.6" ry="13.6" transform="rotate(24 561.3 234.8)" fill="none" stroke="#1c1c1c" stroke-width="1.15" />
<ellipse cx="562" cy="235.2" rx="9" ry="12" transform="rotate(24 562 235.2)" fill="none" stroke="#1c1c1c" stroke-width="1" />
<circle cx="561.7" cy="235.5" r="0.8" fill="#222"/>
</g>
</svg>
</body></html>
